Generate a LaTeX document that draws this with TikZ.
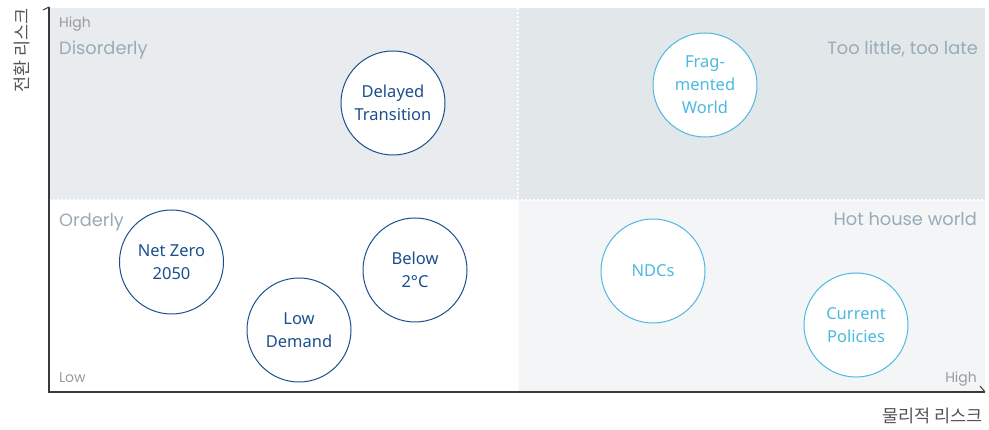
\documentclass[tikz,border=0pt]{standalone}
\usepackage{fontspec}
\setmainfont{Noto Sans}
\newfontfamily\popfont{Poppins}
\newfontfamily\krfont{Noto Sans CJK KR}
\definecolor{qTL}{HTML}{E8ECEF}
\definecolor{qTR}{HTML}{E2E7EA}
\definecolor{qBR}{HTML}{F3F5F7}
\definecolor{darkblue}{HTML}{1B4F8E}
\definecolor{lightblue}{HTML}{4DB9E0}
\definecolor{qlabel}{HTML}{9AABB6}
\definecolor{small}{HTML}{9A9A9A}
\definecolor{axis}{HTML}{3A3A3A}
\definecolor{axlabel}{HTML}{555555}
\begin{document}
\begin{tikzpicture}[x=1pt,y=-1pt,
  scen/.style={circle,minimum size=104pt,inner sep=0pt,fill=white,line width=1pt,align=center,font=\fontsize{16.5}{23}\selectfont},
  dscen/.style={scen,draw=darkblue,text=darkblue},
  lscen/.style={scen,draw=lightblue,text=lightblue},
  qlab/.style={inner sep=0pt,text=qlabel,font=\popfont\fontsize{17.8}{20}\selectfont},
  lvl/.style={inner sep=0pt,text=small,font=\popfont\fontsize{14}{16}\selectfont},
  axlab/.style={inner sep=0pt,text=axlabel,font=\krfont\fontsize{17.5}{20}\selectfont},
  divider/.style={white,line width=1.3pt,dash pattern=on 2pt off 2pt}]
\useasboundingbox (0,0) rectangle (989,430);
% quadrants
\fill[qTL] (49,8) rectangle (518,200);
\fill[qTR] (518,8) rectangle (985,200);
\fill[qBR] (518,200) rectangle (985,392);
\draw[divider] (518,8) -- (518,392);
\draw[divider] (49,200) -- (985,200);
% axes
\coordinate (origin) at (49,392);
\coordinate (ytop) at (49,7);
\coordinate (ytick) at (43,10);
\coordinate (xend) at (985,392);
\coordinate (xtick) at (980,386);
\draw[axis,line width=1.3pt] (ytop) -- (origin) -- (xend);
\draw[axis,line width=1pt] (ytick) -- (ytop);
\draw[axis,line width=1pt] (xtick) -- (xend);
% axis labels
\node[axlab,rotate=90,anchor=east] (ylab) at (22,8) {전환 리스크};
\node[axlab,anchor=base east] (xlab) at (983,423) {물리적 리스크};
% level labels
\node[lvl,anchor=base west] (hightl) at (59,28) {High};
\node[lvl,anchor=base west] (lowbl) at (59,383) {Low};
\node[lvl,anchor=base east] (highbr) at (977,383) {High};
% quadrant labels
\node[qlab,anchor=base west] (disorderly) at (59,55) {Disorderly};
\node[qlab,anchor=base west] (orderly) at (59,227) {Orderly};
\node[qlab,anchor=base east] (toolate) at (978,55) {Too little, too late};
\node[qlab,anchor=base east] (hothouse) at (977,226) {Hot house world};
% scenarios
\node[dscen] (delayed) at (393,103) {Delayed\\Transition};
\node[lscen] (fragmented) at (705,85) {Frag-\\mented\\World};
\node[dscen] (netzero) at (171.5,262) {Net Zero\\2050};
\node[dscen] (lowdemand) at (299,330) {Low\\Demand};
\node[dscen] (below2) at (415,270) {Below\\2°C};
\node[lscen] (ndcs) at (653,271) {NDCs};
\node[lscen] (current) at (856,325) {Current\\Policies};
\end{tikzpicture}
\end{document}
